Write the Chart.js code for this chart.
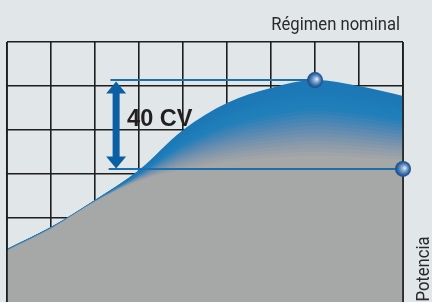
<!DOCTYPE html>
<html>
<head>
<meta charset="utf-8">
<script src="https://cdn.jsdelivr.net/npm/chart.js@4"></script>
<style>
  html, body { margin: 0; padding: 0; background: #e1e6e9; overflow: hidden; }
  canvas { display: block; }
</style>
</head>
<body>
<canvas id="c" width="432" height="302"></canvas>
<script>
// ---- data ----
const rpmSteps = [0, 1, 2, 3, 4, 5, 6, 7, 8, 9];
const potencia = [25.9, 35.9, 48.2, 61.8, 80.0, 92.3, 99.1, 102.7, 100.0, 95.5];
const gridValues = [20, 40, 60, 80, 100, 120];
const markerX = [7, 9];
const markerY = [102.7, 62.3];
const guideStartX = [2.35, 2.31];
const arrowX = 2.48;
const arrowLabel = '40 CV';
const topLabel = 'Régimen nominal';
const axisLabel = 'Potencia';

// ---- styling helpers ----
const N = 20;
function depth(v) { return Math.max(0.9, (v - 55) * 0.72); }
const ramp = [[0, [27, 119, 181]], [0.35, [33, 127, 186]], [0.58, [88, 136, 178]], [0.82, [138, 155, 170]], [1, [166, 167, 167]]];
function rampColor(t) {
  for (let i = 1; i < ramp.length; i++) {
    if (t <= ramp[i][0]) {
      const a = ramp[i - 1], b = ramp[i];
      const f = (t - a[0]) / (b[0] - a[0]);
      const c = a[1].map((x, j) => Math.round(x + (b[1][j] - x) * f));
      return `rgb(${c[0]},${c[1]},${c[2]})`;
    }
  }
  return 'rgb(166,167,167)';
}

const datasets = [];
for (let k = 0; k <= N; k++) {
  const t = k / N;
  datasets.push({
    type: 'line',
    data: rpmSteps.map((x, i) => ({ x, y: potencia[i] - t * depth(potencia[i]) })),
    borderColor: 'rgba(0,0,0,0)',
    borderWidth: 1,
    backgroundColor: k === N ? '#a6a7a7' : rampColor(t),
    fill: 'start',
    pointRadius: 0,
    cubicInterpolationMode: 'monotone',
    order: 200 - k
  });
}
const grayIndex = N;

// guide lines
markerX.forEach((mx, i) => {
  datasets.push({
    type: 'line',
    data: [{ x: guideStartX[i], y: markerY[i] }, { x: mx, y: markerY[i] }],
    borderColor: '#1f6eac',
    borderWidth: 2,
    pointRadius: 0,
    fill: false,
    order: 10
  });
});

// spheres
datasets.push({
  type: 'line',
  showLine: false,
  data: markerX.map((x, i) => ({ x, y: markerY[i] })),
  pointRadius: 8,
  pointHoverRadius: 8,
  pointBorderWidth: 0,
  clip: false,
  pointBackgroundColor: (ctx) => {
    const fallback = '#3b6fae';
    if (!ctx.parsed) return fallback;
    const ch = ctx.chart;
    if (!ch.scales || !ch.scales.x || !ch.scales.y) return fallback;
    const px = ch.scales.x.getPixelForValue(ctx.parsed.x);
    const py = ch.scales.y.getPixelForValue(ctx.parsed.y);
    if (!isFinite(px) || !isFinite(py)) return fallback;
    const g = ch.ctx.createRadialGradient(px + 2, py - 1, 0, px, py, 8);
    g.addColorStop(0, '#eef4fa');
    g.addColorStop(0.3, '#8fb1d6');
    g.addColorStop(0.75, '#2f65a3');
    g.addColorStop(1, '#1b4c86');
    return g;
  },
  order: 1
});

const decor = {
  id: 'decor',
  afterDatasetDraw(chart, args) {
    if (args.index !== grayIndex) return;
    const { ctx, chartArea: a, scales: { x } } = chart;
    ctx.save();
    ctx.strokeStyle = '#1e1e1e';
    ctx.lineWidth = 1.6;
    [x.getPixelForValue(x.min), x.getPixelForValue(x.max)].forEach(px => {
      ctx.beginPath();
      ctx.moveTo(px, a.top);
      ctx.lineTo(px, a.bottom);
      ctx.stroke();
    });
    ctx.restore();
  },
  afterDatasetsDraw(chart) {
    const { ctx, chartArea: a, scales: { x, y } } = chart;
    const ax = x.getPixelForValue(arrowX);
    const yt = y.getPixelForValue(markerY[0]) + 1.5;
    const yb = y.getPixelForValue(markerY[1]) - 0.5;
    const hw = 10, sw = 3.5, hl = 12;
    ctx.save();
    ctx.fillStyle = '#0b5fa3';
    ctx.beginPath();
    ctx.moveTo(ax, yt);
    ctx.lineTo(ax + hw, yt + hl);
    ctx.lineTo(ax + sw, yt + hl);
    ctx.lineTo(ax + sw, yb - hl);
    ctx.lineTo(ax + hw, yb - hl);
    ctx.lineTo(ax, yb);
    ctx.lineTo(ax - hw, yb - hl);
    ctx.lineTo(ax - sw, yb - hl);
    ctx.lineTo(ax - sw, yt + hl);
    ctx.lineTo(ax - hw, yt + hl);
    ctx.closePath();
    ctx.fill();

    ctx.fillStyle = '#231f20';
    ctx.font = 'bold 23.5px "Liberation Sans", Arial, sans-serif';
    ctx.textAlign = 'left';
    ctx.textBaseline = 'alphabetic';
    ctx.fillText(arrowLabel, ax + 11, (yt + yb) / 2 + 1);

    ctx.fillStyle = '#2a2a2a';
    ctx.font = '17.5px Roboto, "Liberation Sans", sans-serif';
    ctx.save();
    ctx.translate(a.right - 3, a.top - 12.5);
    ctx.scale(0.95, 1);
    ctx.textAlign = 'right';
    ctx.fillText(topLabel, 0, 0);
    ctx.restore();

    ctx.save();
    ctx.translate(a.right + 25.5, a.bottom - 0.5);
    ctx.rotate(-Math.PI / 2);
    ctx.scale(0.95, 1);
    ctx.font = '17.5px Roboto, "Liberation Sans", sans-serif';
    ctx.textAlign = 'left';
    ctx.fillText(axisLabel, 0, 0);
    ctx.restore();
    ctx.restore();
  }
};

new Chart(document.getElementById('c'), {
  type: 'line',
  data: { datasets },
  options: {
    responsive: false,
    devicePixelRatio: 1,
    animation: false,
    events: [],
    layout: { autoPadding: false, padding: { left: 7, right: 29, top: 42, bottom: 0 } },
    plugins: { legend: { display: false }, tooltip: { enabled: false }, title: { display: false } },
    scales: {
      x: {
        type: 'linear', min: 0, max: 9,
        ticks: { display: false, stepSize: 1 },
        grid: { color: '#1e1e1e', lineWidth: 1.6, drawTicks: false },
        border: { display: false }
      },
      y: {
        type: 'linear', min: 1.82, max: 120,
        afterBuildTicks: (s) => { s.ticks = gridValues.map(v => ({ value: v })); },
        ticks: { display: false },
        grid: { color: '#1e1e1e', lineWidth: 1.6, drawTicks: false },
        border: { display: false }
      }
    }
  },
  plugins: [decor]
});
</script>
</body>
</html>
